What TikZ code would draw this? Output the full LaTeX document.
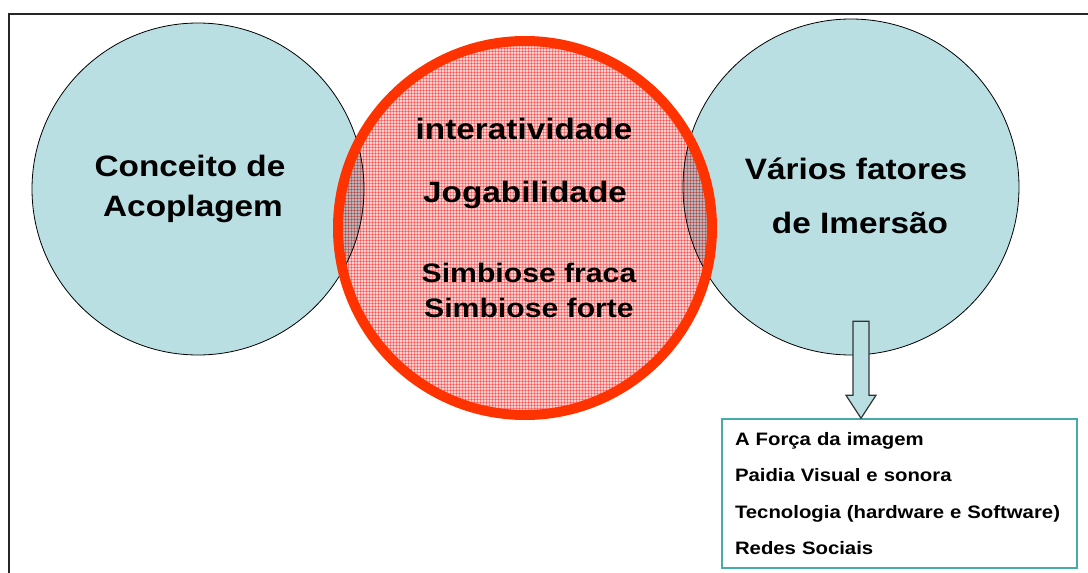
\documentclass[tikz,border=0pt]{standalone}
\usepackage{fontspec}
\setmainfont{Liberation Sans}[FakeStretch=1.13]
\usepackage{xcolor}
\usepackage{tikz}
\usetikzlibrary{patterns, positioning}

\definecolor{azulclaro}{RGB}{185,223,227}
\definecolor{rosa}{RGB}{255,208,208}
\definecolor{grade}{RGB}{252,165,165}
\definecolor{vermelho}{RGB}{255,51,0}
\definecolor{verdeazul}{RGB}{72,170,170}

\begin{document}
\begin{tikzpicture}[
        x=1pt, y=-1pt,
        bolha/.style={circle, draw=black, line width=0.8pt, fill=azulclaro},
        nucleo/.style={circle, preaction={fill=rosa}, pattern=grid, pattern color=grade},
        rotulo/.style={anchor=base, inner sep=0pt, font=\bfseries\fontsize{29.5}{35}\selectfont},
        menor/.style={anchor=base, inner sep=0pt, font=\bfseries\fontsize{26.7}{32}\selectfont},
        caixa/.style={rectangle, draw=verdeazul, line width=1.5pt, fill=white, minimum width=355pt, minimum height=149pt,
            text width=329pt, inner xsep=13pt, align=left, font=\bfseries\fontsize{18}{36.4}\selectfont},
        seta/.style={draw=black!80, line width=1.2pt, fill=azulclaro, line join=miter}
    ]
        \useasboundingbox (0,0) rectangle (1088,573);
        \clip (0,0) rectangle (1088,573);
        \draw[black!85, line width=2pt] (8.5,13.5) rectangle (1110,600);

        % Circles
        \node[bolha, minimum size=332pt] (acoplagem) at (198,189) {};
        \node[bolha, minimum size=336pt] (imersao) at (851,187) {};
        \begin{scope}[blend mode=multiply]
            \node[nucleo, minimum size=374pt] (centro) at (525,228) {};
        \end{scope}
        \draw[vermelho, line width=10pt] (centro.center) circle[radius=187];

        % Texts
        \node[rotulo] (conceito) at (190,176) {Conceito de};
        \node[rotulo] (acopl) at (193,216) {Acoplagem};
        \node[rotulo] (varios) at (856,179) {Vários fatores};
        \node[rotulo] (deimersao) at (860,233) {de Imersão};
        \node[rotulo] (inter) at (524,139) {interatividade};
        \node[rotulo] (joga) at (525,202) {Jogabilidade};
        \node[menor] (fraca) at (529,282) {Simbiose fraca};
        \node[menor] (forte) at (529,317) {Simbiose forte};

        % List
        \node[caixa] (lista) at (899.5,493.5) {A Força da imagem\\Paidia Visual e sonora\\Tecnologia (hardware e Software)\\Redes Sociais};

        % Arrow
        \coordinate (ponta) at (lista.north -| 861,0);
        \draw[seta] (ponta) -- ++(-15,-23) -- ++(7,0) -- ++(0,-74) -- ++(16,0) -- ++(0,74) -- ++(7,0) -- cycle;
    \end{tikzpicture}
\end{document}
